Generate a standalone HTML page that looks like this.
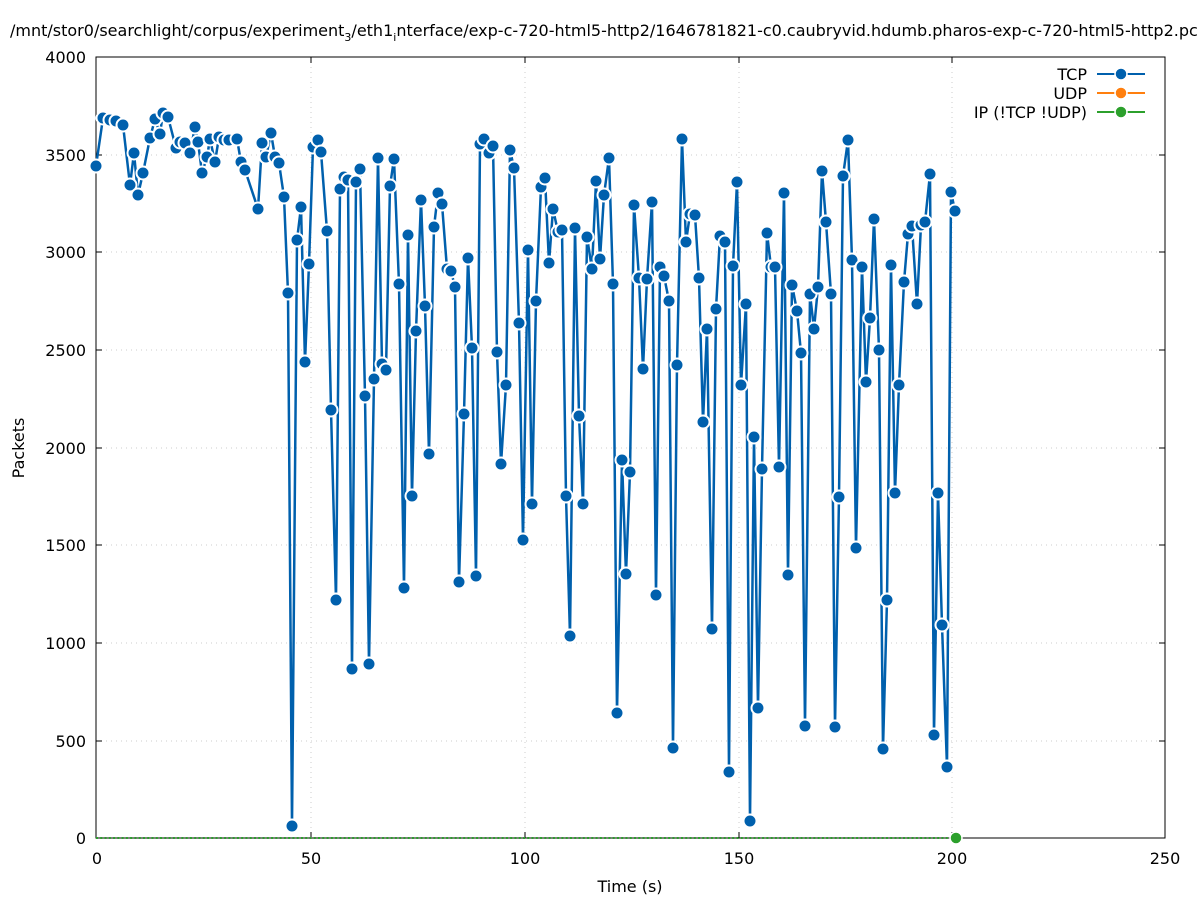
<!DOCTYPE html>
<html><head><meta charset="utf-8"><style>body{margin:0;background:#fff}svg{display:block;font-family:"DejaVu Sans","Liberation Sans",sans-serif}</style></head><body>
<svg width="1197" height="900" viewBox="0 0 1197 900" xmlns="http://www.w3.org/2000/svg">
<defs>
<marker id="dot" markerUnits="userSpaceOnUse" markerWidth="18" markerHeight="18" refX="9" refY="9" viewBox="0 0 18 18" overflow="visible">
<circle cx="9" cy="9" r="6.5" fill="#0060ad" stroke="#fff" stroke-width="2"/>
</marker>
</defs>
<rect width="1197" height="900" fill="#fff"/>
<g stroke="#ccc" stroke-dasharray="1,4" stroke-width="1">
<line x1="96" y1="741" x2="1165" y2="741"/><line x1="96" y1="643" x2="1165" y2="643"/><line x1="96" y1="545" x2="1165" y2="545"/><line x1="96" y1="448" x2="1165" y2="448"/><line x1="96" y1="350" x2="1165" y2="350"/><line x1="96" y1="252" x2="1165" y2="252"/><line x1="96" y1="155" x2="1165" y2="155"/>
<line x1="311" y1="57" x2="311" y2="838"/><line x1="525" y1="57" x2="525" y2="838"/><line x1="739" y1="57" x2="739" y2="838"/><line x1="952" y1="57" x2="952" y2="838"/>
</g>
<rect x="96" y="57" width="1069" height="781" fill="none" stroke="#000"/>
<g stroke="#000">
<line x1="96" y1="741" x2="102" y2="741"/><line x1="96" y1="643" x2="102" y2="643"/><line x1="96" y1="545" x2="102" y2="545"/><line x1="96" y1="448" x2="102" y2="448"/><line x1="96" y1="350" x2="102" y2="350"/><line x1="96" y1="252" x2="102" y2="252"/><line x1="96" y1="155" x2="102" y2="155"/>
<line x1="1165" y1="741" x2="1159" y2="741"/><line x1="1165" y1="643" x2="1159" y2="643"/><line x1="1165" y1="545" x2="1159" y2="545"/><line x1="1165" y1="448" x2="1159" y2="448"/><line x1="1165" y1="350" x2="1159" y2="350"/><line x1="1165" y1="252" x2="1159" y2="252"/><line x1="1165" y1="155" x2="1159" y2="155"/>
<line x1="311" y1="838" x2="311" y2="832"/><line x1="525" y1="838" x2="525" y2="832"/><line x1="739" y1="838" x2="739" y2="832"/><line x1="952" y1="838" x2="952" y2="832"/>
<line x1="311" y1="57" x2="311" y2="63"/><line x1="525" y1="57" x2="525" y2="63"/><line x1="739" y1="57" x2="739" y2="63"/><line x1="952" y1="57" x2="952" y2="63"/>
</g>
<g font-size="16" fill="#000" text-anchor="end">
<text x="86" y="844">0</text><text x="86" y="747">500</text><text x="86" y="649">1000</text><text x="86" y="551">1500</text><text x="86" y="454">2000</text><text x="86" y="356">2500</text><text x="86" y="258">3000</text><text x="86" y="161">3500</text><text x="86" y="63">4000</text>
</g>
<g font-size="16" fill="#000" text-anchor="middle">
<text x="97" y="864">0</text><text x="311" y="864">50</text><text x="525" y="864">100</text><text x="739" y="864">150</text><text x="952" y="864">200</text><text x="1165" y="864">250</text>
<text x="630" y="892">Time (s)</text>
<text x="24" y="448" transform="rotate(-90 24 448)">Packets</text>
</g>
<text x="10" y="36" font-size="16">/mnt/stor0/searchlight/corpus/experiment<tspan font-size="11" dy="5">3</tspan><tspan dy="-5">/eth1</tspan><tspan font-size="11" dy="5">i</tspan><tspan dy="-5">nterface/exp-c-720-html5-http2/1646781821-c0.caubryvid.hdumb.pharos-exp-c-720-html5-http2.pcap</tspan></text>
<line x1="96" y1="838" x2="956" y2="838" stroke="#2ca02c" stroke-width="2" stroke-dasharray="2,2.27"/>
<polyline fill="none" stroke="#0060ad" stroke-width="2.5" stroke-linejoin="round" marker-start="url(#dot)" marker-mid="url(#dot)" marker-end="url(#dot)" points="96,166 103,118 110,120 116,121 123,125 130,185 134,153 138,195 143,173 150,138 155,119 160,134 163,113 168,117 176,148 180,142 185,143 190,153 195,127 198,142 202,173 207,157 210,139 215,162 219,137 224,140 229,140 237,139 241,162 245,170 258,209 262,143 266,157 271,133 275,157 279,163 284,197 288,293 292,826 297,240 301,207 305,362 309,264 313,147 318,140 321,152 327,231 331,410 336,600 340,189 344,177 348,180 352,669 356,182 360,169 365,396 369,664 374,379 378,158 382,364 386,370 390,186 394,159 399,284 404,588 408,235 412,496 416,331 421,200 425,306 429,454 434,227 438,193 442,204 447,269 451,271 455,287 459,582 464,414 468,258 472,348 476,576 480,144 484,139 489,153 493,146 497,352 501,464 506,385 510,150 514,168 519,323 523,540 528,250 532,504 536,301 541,187 545,178 549,263 553,209 558,232 562,230 566,496 570,636 575,228 579,416 583,504 587,237 592,269 596,181 600,259 604,195 609,158 613,284 617,713 622,460 626,574 630,472 634,205 639,278 643,369 647,279 652,202 656,595 660,267 664,276 669,301 673,748 677,365 682,139 686,242 690,214 695,215 699,278 703,422 707,329 712,629 716,309 720,236 725,242 729,772 733,266 737,182 741,385 746,304 750,821 754,437 758,708 762,469 767,233 771,267 775,267 779,467 784,193 788,575 792,285 797,311 801,353 805,726 810,294 814,329 818,287 822,171 826,222 831,294 835,727 839,497 843,176 848,140 852,260 856,548 862,267 866,382 870,318 874,219 879,350 883,749 887,600 891,265 895,493 899,385 904,282 908,234 912,226 917,304 921,225 925,222 930,174 934,735 938,493 942,625 947,767 951,192 955,211"/>
<circle cx="956" cy="838" r="6" fill="#2ca02c" stroke="#fff" stroke-width="1.5"/>
<g font-size="16" fill="#000" text-anchor="end">
<text x="1087" y="80">TCP</text><text x="1087" y="99">UDP</text><text x="1087" y="118">IP (!TCP  !UDP)</text>
</g>
<line x1="1097" y1="74" x2="1145" y2="74" stroke="#0060ad" stroke-width="2"/><circle cx="1121" cy="74" r="6" fill="#0060ad" stroke="#fff" stroke-width="1.5"/>
<line x1="1097" y1="93" x2="1145" y2="93" stroke="#ff7f0e" stroke-width="2"/><circle cx="1121" cy="93" r="6" fill="#ff7f0e" stroke="#fff" stroke-width="1.5"/>
<line x1="1097" y1="112" x2="1145" y2="112" stroke="#2ca02c" stroke-width="2"/><circle cx="1121" cy="112" r="6" fill="#2ca02c" stroke="#fff" stroke-width="1.5"/>
</svg>
</body></html>
